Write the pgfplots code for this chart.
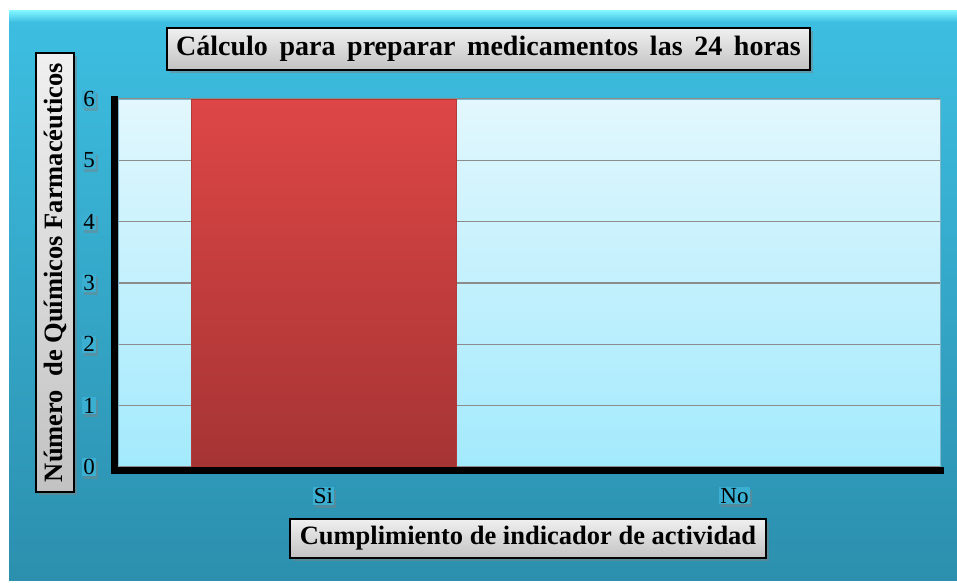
\documentclass[border=0pt]{standalone}
\usepackage{pgfplots}
\pgfplotsset{compat=1.18}
\usepackage{fontspec}
\setmainfont{Liberation Serif}
\usetikzlibrary{shadows}
\definecolor{panelTop}{HTML}{3DBFE2}
\definecolor{panelBot}{HTML}{2C8FAE}
\definecolor{panelHi}{HTML}{7FF3FF}
\definecolor{plotTop}{HTML}{E2F7FD}
\definecolor{plotBot}{HTML}{A3EAFD}
\definecolor{plotBorder}{HTML}{7FB8CC}
\definecolor{barTop}{HTML}{DE4646}
\definecolor{barBot}{HTML}{A63434}
\definecolor{barEdge}{HTML}{B33A3A}
\definecolor{boxTop}{HTML}{F0F0F0}
\definecolor{boxBot}{HTML}{C2C2C2}
\definecolor{tickBox}{HTML}{3AAFD2}
\definecolor{gridC}{HTML}{8C8C8C}
\begin{document}
\begin{tikzpicture}[x=1pt,y=1pt,
  lbox/.style={draw=black, line width=1.6pt, top color=boxTop, bottom color=boxBot,
    inner sep=0pt, drop shadow={shadow xshift=3pt, shadow yshift=-3pt, opacity=0.5}}]
\useasboundingbox (0,0) rectangle (957,582);
\fill[white] (0,0) rectangle (957,582);
\shade[top color=panelTop, bottom color=panelBot] (9,2) rectangle (957,571);
\shade[top color=panelHi, bottom color=panelTop] (9,560) rectangle (957,571);
\begin{axis}[
  at={(118pt,115pt)}, anchor=south west,
  scale only axis, width=822pt, height=368pt,
  xmin=-0.5, xmax=1.5, ymin=0, ymax=6,
  clip=false,
  axis background/.style={shade, top color=plotTop, bottom color=plotBot},
  axis line style={draw=plotBorder, line width=1pt},
  xtick={0,1}, xticklabels={Si,No},
  ytick={0,1,2,3,4,5,6},
  ymajorgrids, grid style={gridC, line width=1.2pt},
  major tick length=0pt,
  /pgf/number format/assume math mode=true,
  tick label style={font=\fontsize{23}{25}\selectfont, fill=tickBox, inner sep=1pt,
    drop shadow={shadow xshift=2pt, shadow yshift=-3pt, opacity=0.45}},
  yticklabel style={xshift=-22pt},
  xticklabel style={yshift=-20pt},
]
\addplot[ybar, bar width=265pt, bar shift=0pt, draw=barEdge, line width=0.8pt,
  top color=barTop, bottom color=barBot] coordinates {(0,6)};
\addplot[ybar, bar width=265pt, bar shift=0pt, draw=none, fill=none] coordinates {(1,0)};
\draw[line width=7pt, line cap=rect, black] ([xshift=-3.5pt]rel axis cs:0,1) -- ([xshift=-3.5pt,yshift=-3.5pt]rel axis cs:0,0) -- ([yshift=-3.5pt]rel axis cs:1,0);
\end{axis}
\node[lbox, minimum width=643pt, minimum height=42pt, font=\bfseries\fontsize{28}{30}\selectfont] at (488.5,533) {Cálculo\, para\, preparar\, medicamentos\, las\, 24\, horas};
\node[lbox, minimum width=476pt, minimum height=39pt, font=\bfseries\fontsize{26.5}{28}\selectfont] at (528,43.5) {Cumplimiento de indicador de actividad};
\node[lbox, rotate=90, minimum width=439pt, minimum height=38pt, font=\bfseries\fontsize{26.5}{28}\selectfont] at (55,309.5) {Número\ \ de Químicos Farmacéuticos};
\end{tikzpicture}
\end{document}
